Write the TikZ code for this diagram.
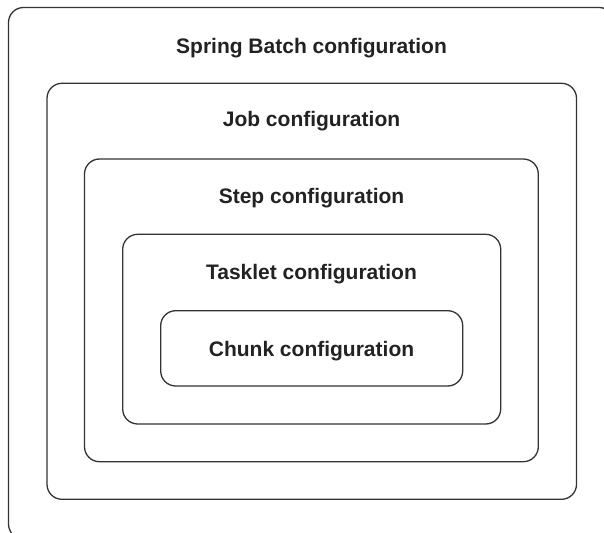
\documentclass[tikz,border=0pt]{standalone}
\usepackage{fontspec}
\setmainfont{Liberation Sans}
\definecolor{cfgline}{HTML}{333333}
\definecolor{cfgtext}{HTML}{222222}
\tikzset{
  cfgbox/.style={draw=cfgline,line width=1.3pt,rounded corners=15pt},
  cfglabel/.style={anchor=base,text=cfgtext,font=\bfseries\fontsize{21}{25}\selectfont}
}
\begin{document}
\begin{tikzpicture}[x=1pt,y=-1pt]
                \useasboundingbox (0,0) rectangle (604,532);
                %% spring batch
                \draw[cfgbox] (8.5,7.5) rectangle (614,539);
                \node[cfglabel] (spring) at (311.5,53.3) {Spring Batch configuration};
                %% job
                \draw[cfgbox] (47,83.3) rectangle (576.5,499.3);
                \node[cfglabel] (job) at (311.5,126.7) {Job configuration};
                %% step
                \draw[cfgbox] (84.5,159) rectangle (538.3,461.7);
                \node[cfglabel] (step) at (311.5,203) {Step configuration};
                %% tasklet
                \draw[cfgbox] (122.7,234.3) rectangle (500.7,424);
                \node[cfglabel] (tasklet) at (311.5,279) {Tasklet configuration};
                %% chunk
                \draw[cfgbox] (160.7,310.7) rectangle (462.7,386);
                \node[cfglabel] (chunk) at (311.5,356) {Chunk configuration};
            \end{tikzpicture}
\end{document}
